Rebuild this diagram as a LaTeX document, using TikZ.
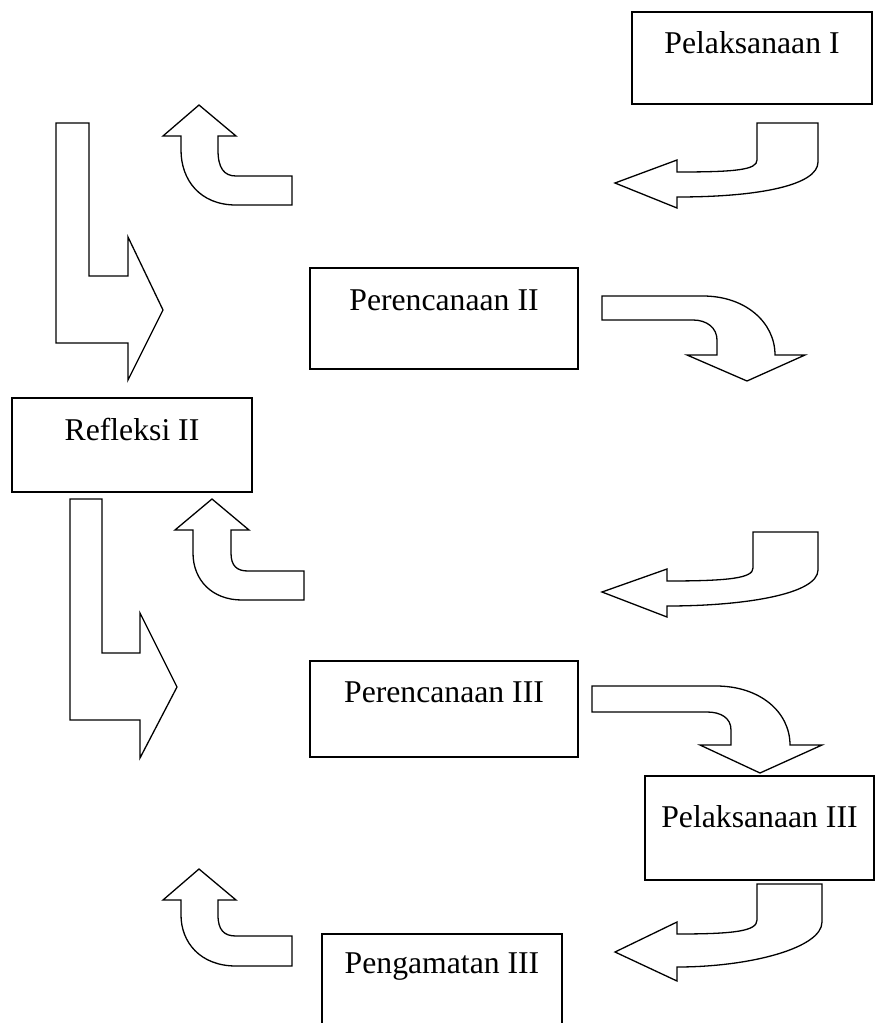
\documentclass[tikz,border=0pt]{standalone}
\usepackage{fontspec}
\setmainfont{Liberation Serif}
\begin{document}
\begin{tikzpicture}[x=1pt,y=-1pt,
  box/.style={draw, line width=1.3pt, inner sep=0pt, outer sep=0pt, anchor=north west, align=center, font=\fontsize{31.7}{38}\selectfont},
  arr/.style={draw, line width=1.3pt, line join=miter, fill=white}]
\useasboundingbox (0,0) rectangle (875,1023);
% boxes: text height = baseline - top, text depth = bottom - baseline
\node[box, minimum width=240pt, text height=41pt, text depth=51pt] (p1) at (632,12) {Pelaksanaan I};
\node[box, minimum width=268pt, text height=42pt, text depth=59pt] (r2) at (310,268) {Perencanaan II};
\node[box, minimum width=240pt, text height=42pt, text depth=52pt] (f2) at (12,398) {Refleksi II};
\node[box, minimum width=268pt, text height=41pt, text depth=55pt] (r3) at (310,661) {Perencanaan III};
\node[box, minimum width=229pt, text height=51pt, text depth=53pt] (p3) at (645,776) {Pelaksanaan III};
\node[box, minimum width=240pt, text height=39pt, text depth=60pt] (g3) at (322,934) {Pengamatan III};
% left-pointing curved arrows (right column)
\draw[arr] (757,123) -- (818,123) -- (818,162) .. controls (818,185) and (760,197) .. (677,197) -- (677,208) -- (615,183) -- (677,160) -- (677,172) .. controls (735,172) and (757,170) .. (757,160) -- cycle;
\draw[arr] (753,532) -- (818,532) -- (818,570) .. controls (818,594) and (745,606) .. (667,606) -- (667,617) -- (602,592) -- (667,569) -- (667,581) .. controls (730,581) and (753,578) .. (753,568) -- cycle;
\draw[arr] (757,884) -- (822,884) -- (822,922) .. controls (822,948) and (750,967) .. (677,967) -- (677,981) -- (615,952) -- (677,922) -- (677,934) .. controls (735,934) and (757,931) .. (757,920) -- cycle;
% upward curved arrows
\draw[arr] (199,105) -- (236,136) -- (218,136) -- (218,150) .. controls (218,168) and (224,176) .. (236,176) -- (292,176) -- (292,205) -- (236,205) .. controls (200,205) and (181,180) .. (181,150) -- (181,136) -- (163,136) -- cycle;
\draw[arr] (212,499) -- (249,530) -- (231,530) -- (231,553) .. controls (231,566) and (237,571) .. (248,571) -- (304,571) -- (304,600) -- (242,600) .. controls (212,600) and (193,580) .. (193,553) -- (193,530) -- (175,530) -- cycle;
\draw[arr] (199,869) -- (236,900) -- (218,900) -- (218,915) .. controls (218,930) and (224,936) .. (236,936) -- (292,936) -- (292,966) -- (236,966) .. controls (200,966) and (181,942) .. (181,915) -- (181,900) -- (163,900) -- cycle;
% L-shaped arrows
\draw[arr] (56,123) -- (89,123) -- (89,276) -- (128,276) -- (128,237) -- (163,310) -- (128,380) -- (128,343) -- (56,343) -- cycle;
\draw[arr] (70,499) -- (102,499) -- (102,653) -- (140,653) -- (140,613) -- (177,687) -- (140,758) -- (140,720) -- (70,720) -- cycle;
% downward curved arrows
\draw[arr] (602,296) -- (703,296) .. controls (745,296) and (775,322) .. (775,355) -- (805,355) -- (747,381) -- (687,355) -- (717,355) -- (717,340) .. controls (717,328) and (707,320) .. (693,320) -- (602,320) -- cycle;
\draw[arr] (592,686) -- (716,686) .. controls (760,686) and (790,712) .. (790,745) -- (822,745) -- (760,773) -- (700,745) -- (731,745) -- (731,730) .. controls (731,718) and (721,712) .. (707,712) -- (592,712) -- cycle;
\end{tikzpicture}
\end{document}
